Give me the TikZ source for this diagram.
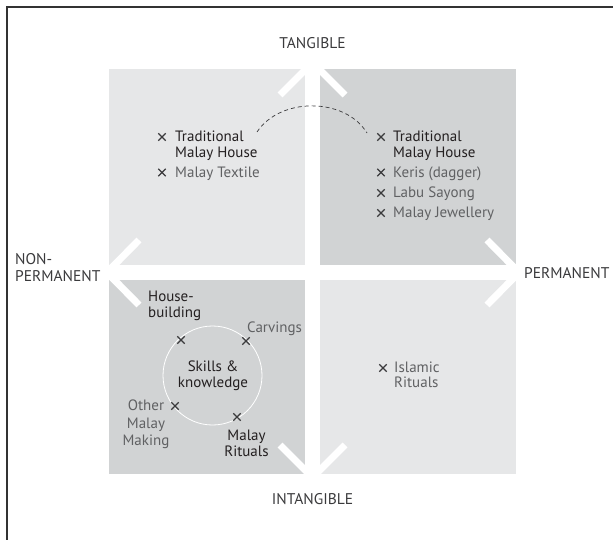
\documentclass[tikz,border=0pt]{standalone}
\usepackage{fontspec}
\usetikzlibrary{shapes.misc}
\setmainfont{PT Sans}
\definecolor{lightq}{HTML}{E6E7E8}
\definecolor{darkq}{HTML}{D1D3D4}
\definecolor{txtdark}{HTML}{231F20}
\definecolor{txtmid}{HTML}{3A3A3C}
\definecolor{txtgray}{HTML}{606163}
\definecolor{framec}{HTML}{333333}
\tikzset{
  lab/.style={font=\fontsize{15}{17}\selectfont, inner sep=0pt, text=txtdark},
  glab/.style={lab, text=txtgray},
  axislab/.style={font=\fontsize{15.5}{17}\selectfont, inner sep=0pt, text=txtmid},
  xm/.style={cross out, draw=txtmid, line width=1.3pt, minimum size=6pt, inner sep=0pt},
  chev/.style={draw=white, line width=7pt},
}
\begin{document}
\begin{tikzpicture}[x=1pt,y=-1pt]
\useasboundingbox (0,0) rectangle (613,540);
% frame (only top and left edges visible)
\draw[framec, line width=2pt] (6.5,540) -- (6.5,7) -- (613,7);
% quadrants
\fill[lightq] (109,69) rectangle (305,265);
\fill[darkq] (320,69) rectangle (516,265);
\fill[darkq] (109,280) rectangle (305,474);
\fill[lightq] (320,280) rectangle (516,474);
% chevrons
\draw[chev] (280,95) -- (312.5,62.5) -- (345,95);
\draw[chev] (280,445) -- (312.5,477.5) -- (345,445);
\draw[chev] (139,240) -- (107,272.5) -- (139,305);
\draw[chev] (487,240) -- (519,272.5) -- (487,305);
% axis labels
\node[axislab, anchor=base] (tang) at (312.5,49) {TANGIBLE};
\node[axislab, anchor=base] (intang) at (312.5,504) {INTANGIBLE};
\node[axislab, anchor=base west] (nonp1) at (15,264) {NON-};
\node[axislab, anchor=base west] (nonp2) at (15,281) {PERMANENT};
\node[axislab, anchor=base west] (perm) at (524,278) {PERMANENT};
% top-left
\node[xm] (xa1) at (162,137) {};
\node[lab, anchor=base west] (a1) at (175,142) {Traditional};
\node[lab, anchor=base west] (a1b) at (175,157.5) {Malay House};
\node[xm] (xa2) at (162,172.5) {};
\node[glab, anchor=base west] (a2) at (175,177.5) {Malay Textile};
% top-right
\node[xm] (xb1) at (381,137) {};
\node[lab, anchor=base west] (b1) at (393,142) {Traditional};
\node[lab, anchor=base west] (b1b) at (393,157.5) {Malay House};
\node[xm] (xb2) at (381,172.5) {};
\node[glab, anchor=base west] (b2) at (393,177.5) {Keris (dagger)};
\node[xm] (xb3) at (381,193) {};
\node[glab, anchor=base west] (b3) at (393,198) {Labu Sayong};
\node[xm] (xb4) at (381,213) {};
\node[glab, anchor=base west] (b4) at (393,218) {Malay Jewellery};
% dashed link
\coordinate (arcA) at (257,132);
\coordinate (arcB) at (367,133);
\draw[txtmid, line width=0.7pt, dash pattern=on 4pt off 3pt] (arcA) .. controls (280,97) and (345,97) .. (arcB);
% bottom-left
\draw[white, line width=0.8pt] (212.5,375.5) circle[radius=49.5];
\node[lab, anchor=base] (s1) at (213,371.5) {Skills \&};
\node[lab, anchor=base] (s2) at (213,387) {knowledge};
\node[xm] (xc1) at (181,340) {};
\node[lab, anchor=base west] (c1) at (148,301) {House-};
\node[lab, anchor=base west] (c1b) at (148,317) {building};
\node[xm] (xc2) at (246,341) {};
\node[glab, anchor=base west] (c2) at (247,332.5) {Carvings};
\node[xm] (xc3) at (175,406) {};
\node[glab, anchor=base] (c3) at (146,410.5) {Other};
\node[glab, anchor=base] (c3b) at (146,428.5) {Malay};
\node[glab, anchor=base] (c3c) at (146,445.5) {Making};
\node[xm] (xc4) at (237,417) {};
\node[lab, anchor=base] (c4) at (246.5,440) {Malay};
\node[lab, anchor=base] (c4b) at (246.5,456.5) {Rituals};
% bottom-right
\node[xm] (xd1) at (383,368) {};
\node[glab, anchor=base west] (d1) at (394,372.5) {Islamic};
\node[glab, anchor=base west] (d1b) at (394,387.5) {Rituals};
\end{tikzpicture}
\end{document}
